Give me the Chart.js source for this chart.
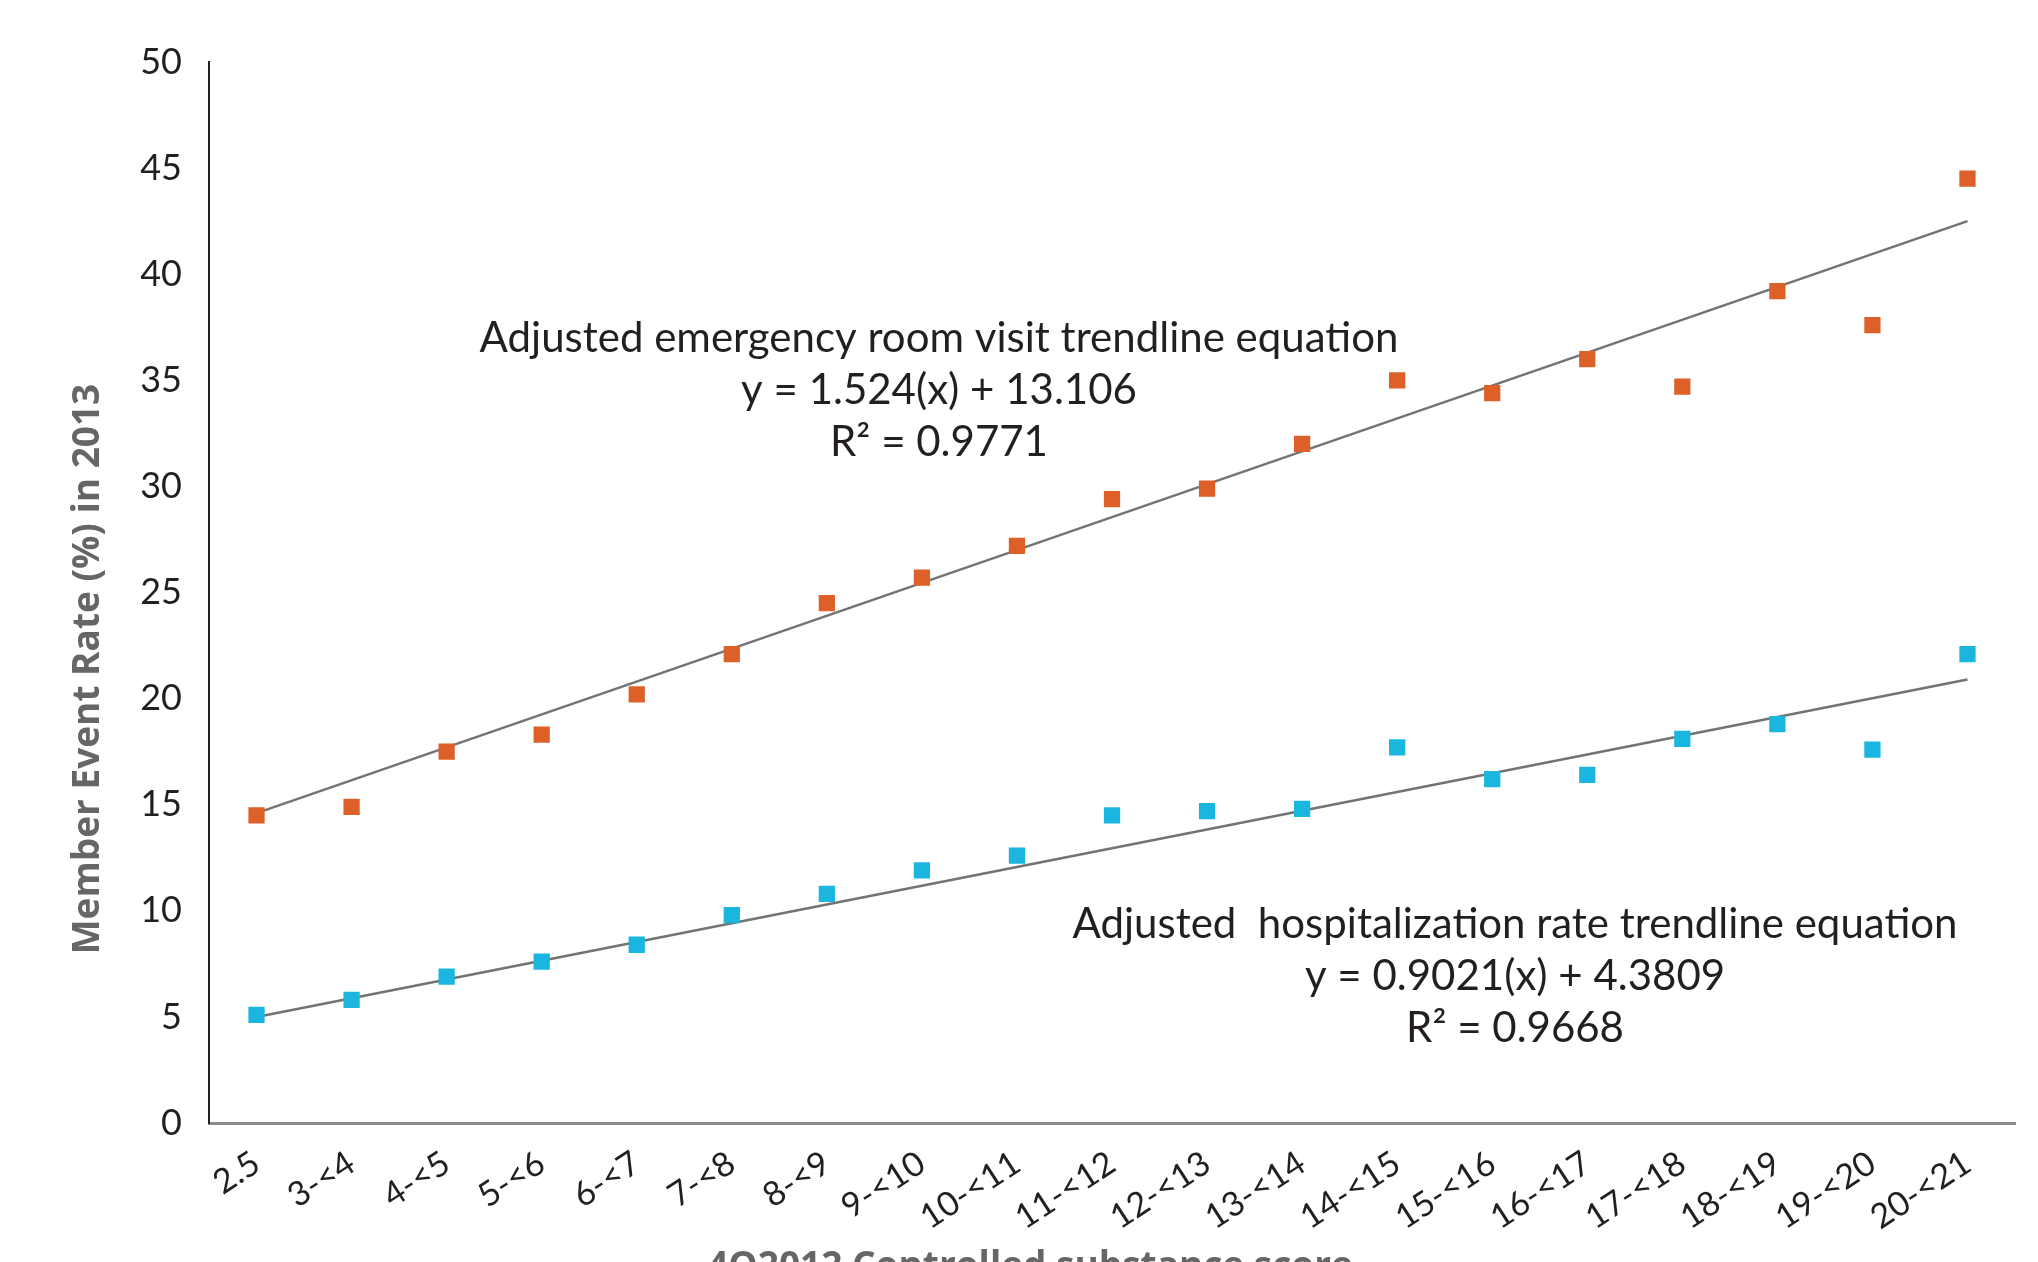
<!DOCTYPE html>
<html>
<head>
<meta charset="utf-8">
<script src="https://cdn.jsdelivr.net/npm/chart.js@4/dist/chart.umd.min.js"></script>
<style>
  html, body { margin: 0; padding: 0; background: #fff; overflow: hidden; }
  #wrap { width: 2038px; height: 1262px; position: relative; }
</style>
</head>
<body>
<div id="wrap"><canvas id="chart"></canvas></div>
<script>
const scoreBands = ['2.5', '3-<4', '4-<5', '5-<6', '6-<7', '7-<8', '8-<9', '9-<10', '10-<11', '11-<12',
    '12-<13', '13-<14', '14-<15', '15-<16', '16-<17', '17-<18', '18-<19', '19-<20', '20-<21'];

const erVisitRate = [14.5, 14.9, 17.5, 18.3, 20.2, 22.1, 24.5, 25.7, 27.2, 29.4,
    29.9, 32.0, 35.0, 34.4, 36.0, 34.7, 39.2, 37.6, 44.5];

const hospRate = [5.1, 5.8, 6.9, 7.6, 8.4, 9.8, 10.8, 11.9, 12.6, 14.5,
    14.7, 14.8, 17.7, 16.2, 16.4, 18.1, 18.8, 17.6, 22.1];

// trendline end values (first and last band)
const erTrendEnds = [14.6, 42.5];
const hospTrendEnds = [5.0, 20.9];

const yTicks = [0, 5, 10, 15, 20, 25, 30, 35, 40, 45, 50];

const trendSeries = ends => scoreBands.map((_, i) => i === 0 ? ends[0] : (i === scoreBands.length - 1 ? ends[1] : null));

const notes = [
    { at: [7.18, 36.95], lines: ['Adjusted emergency room visit trendline equation', 'y = 1.524(x) + 13.106', 'R\u00b2 = 0.9771'] },
    { at: [13.24, 9.38], lines: ['Adjusted  hospitalization rate trendline equation', 'y = 0.9021(x) + 4.3809', 'R\u00b2 = 0.9668'] }
];

const textFont = 'Lato, "Open Sans", sans-serif';

// equation notes and axis titles
const notesPlugin = {
    id: 'notes',
    afterDraw(chart) {
        const { ctx, scales: { x, y } } = chart;
        ctx.save();
        ctx.fillStyle = '#231f20';
        ctx.font = '400 42px ' + textFont;
        ctx.textAlign = 'center';
        ctx.textBaseline = 'middle';
        notes.forEach(n => {
            const px = x.getPixelForValue(n.at[0]);
            const py = y.getPixelForValue(n.at[1]);
            n.lines.forEach((line, k) => ctx.fillText(line, px, py + k * 52));
        });

        ctx.fillStyle = '#666666';
        ctx.font = 'bold 37px "Open Sans", sans-serif';
        ctx.save();
        ctx.translate(88, 669);
        ctx.rotate(-Math.PI / 2);
        ctx.fillText('Member Event Rate (%) in 2013', 0, 0);
        ctx.restore();

        ctx.textBaseline = 'alphabetic';
        ctx.fillText('4Q2012 Controlled substance score', 1030, 1278);
        ctx.restore();
    }
};

new Chart(document.getElementById('chart'), {
    type: 'line',
    data: {
        labels: scoreBands,
        datasets: [
            {
                label: 'Adjusted emergency room visit rate',
                data: erVisitRate,
                showLine: false,
                pointStyle: 'rect',
                pointRadius: 11.5,
                pointBorderWidth: 0,
                backgroundColor: '#dc6028',
                order: 0
            },
            {
                label: 'Adjusted hospitalization rate',
                data: hospRate,
                showLine: false,
                pointStyle: 'rect',
                pointRadius: 11.5,
                pointBorderWidth: 0,
                backgroundColor: '#1bb6df',
                order: 0
            },
            {
                label: 'ER trendline',
                data: trendSeries(erTrendEnds),
                spanGaps: true,
                borderColor: '#737373',
                borderWidth: 2.5,
                pointRadius: 0,
                order: 1
            },
            {
                label: 'Hospitalization trendline',
                data: trendSeries(hospTrendEnds),
                spanGaps: true,
                borderColor: '#737373',
                borderWidth: 2.5,
                pointRadius: 0,
                order: 1
            }
        ]
    },
    options: {
        responsive: true,
        maintainAspectRatio: false,
        animation: false,
        events: [],
        layout: { padding: { left: 0, right: 23, top: 62, bottom: 0 } },
        plugins: {
            legend: { display: false },
            tooltip: { enabled: false }
        },
        scales: {
            x: {
                offset: true,
                grid: { display: false, drawTicks: false },
                border: { display: true, color: '#8c8c8c', width: 3 },
                ticks: {
                    autoSkip: false,
                    maxRotation: 33,
                    minRotation: 33,
                    padding: 20,
                    color: '#231f20',
                    font: { family: textFont, size: 34, weight: '400' }
                },
                afterFit: s => { s.height = 139; }
            },
            y: {
                min: 0,
                max: 50,
                afterBuildTicks: s => { s.ticks = yTicks.map(v => ({ value: v })); },
                grid: { display: false, drawTicks: false },
                border: { display: true, color: '#231f20', width: 2 },
                ticks: {
                    padding: 27,
                    color: '#231f20',
                    font: { family: textFont, size: 36, weight: '400' }
                },
                afterFit: s => { s.width = 209; }
            }
        }
    },
    plugins: [notesPlugin]
});
</script>
</body>
</html>
